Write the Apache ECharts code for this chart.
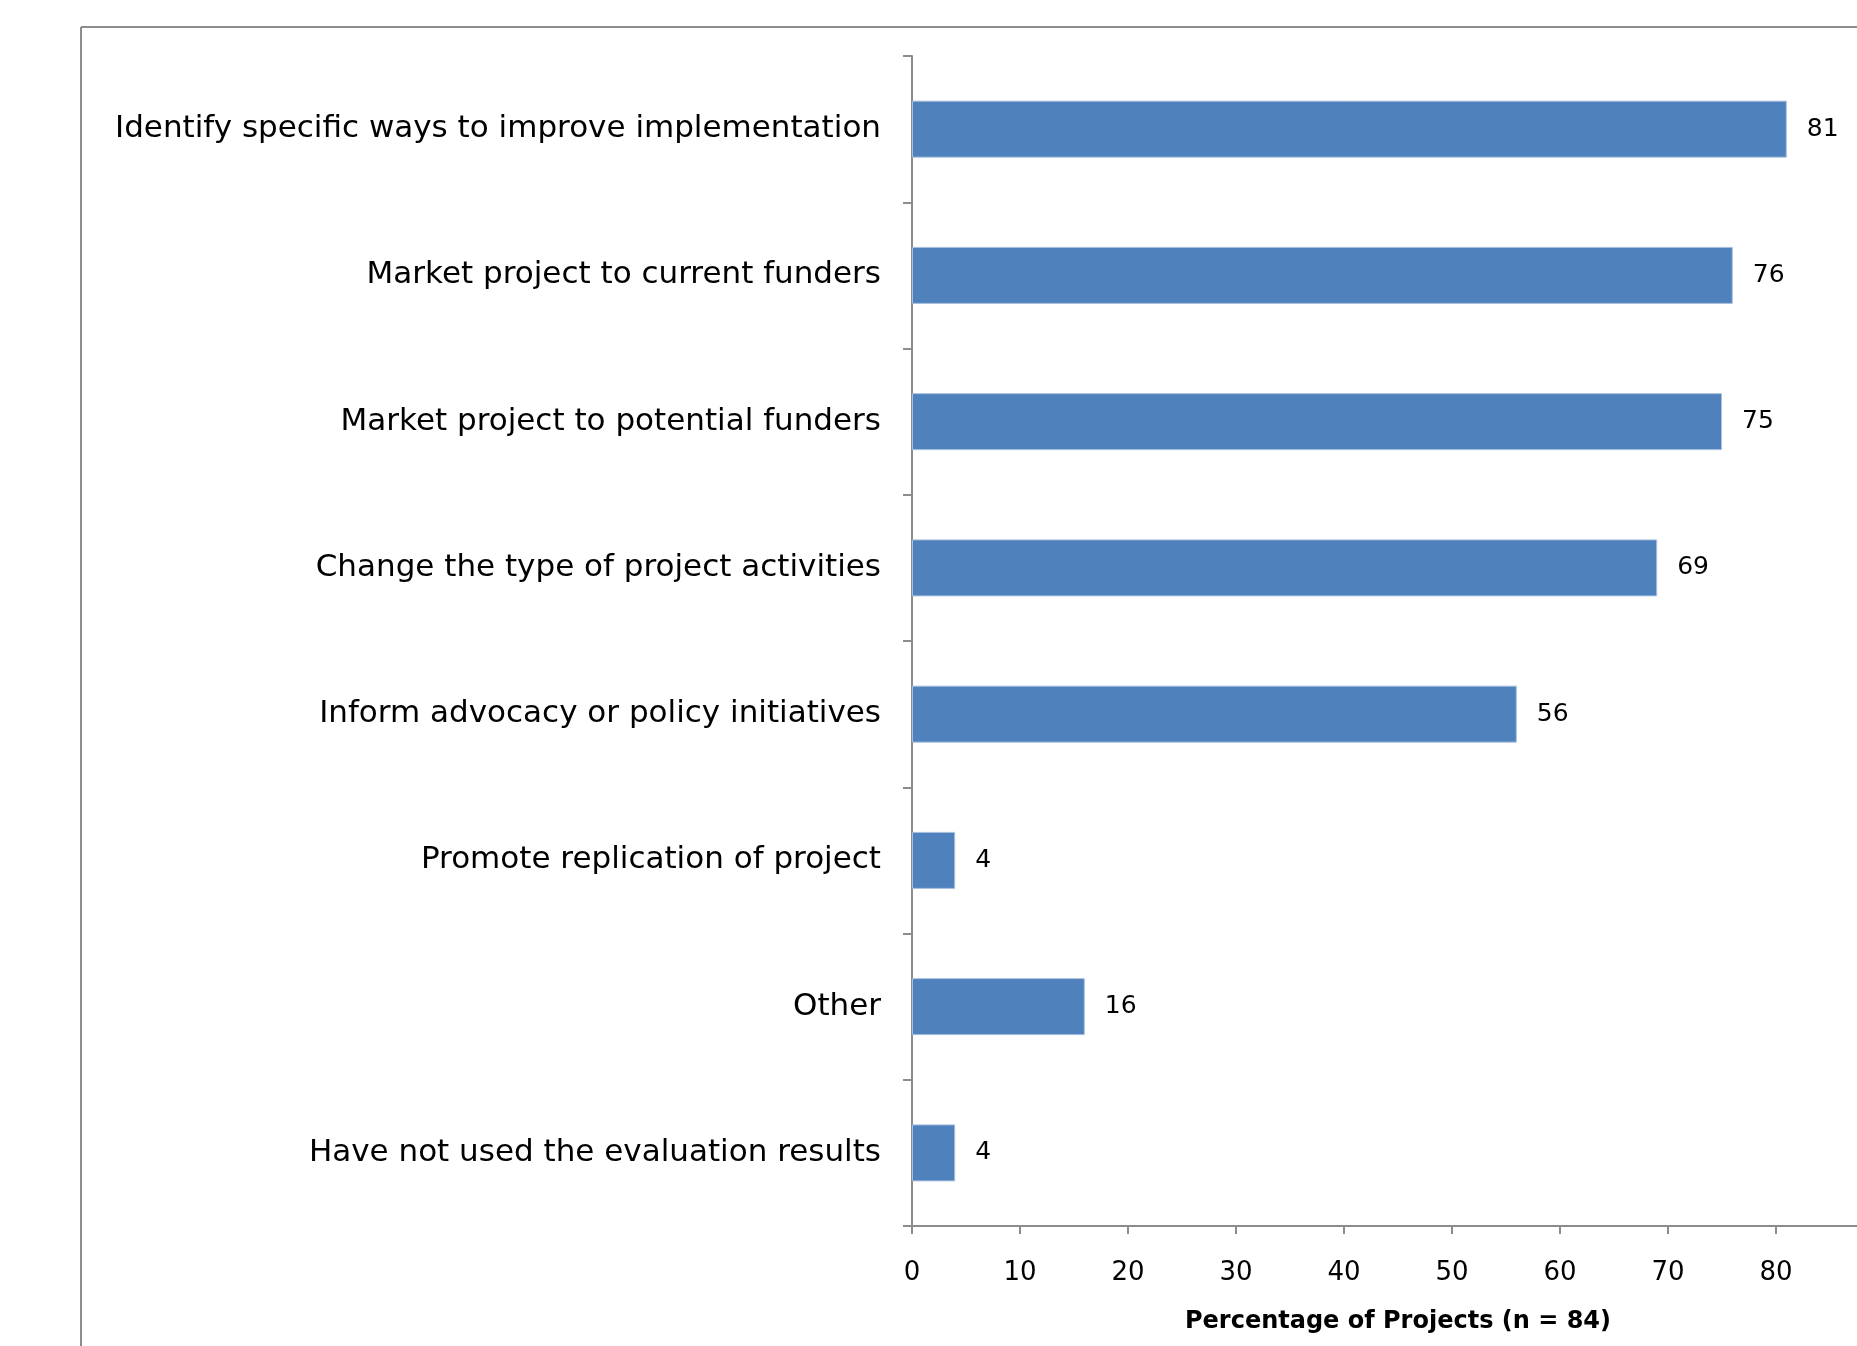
<!DOCTYPE html>
<html>
<head>
<meta charset="utf-8">
<script src="https://cdn.jsdelivr.net/npm/echarts@6/dist/echarts.min.js"></script>
<style>
html,body{margin:0;padding:0;background:#fff;}
#chart{width:1857px;height:1346px;}
</style>
</head>
<body>
<div id="chart"></div>
<script>
const categories = [
  "Identify specific ways to improve implementation",
  "Market project to current funders",
  "Market project to potential funders",
  "Change the type of project activities",
  "Inform advocacy or policy initiatives",
  "Promote replication of project",
  "Other",
  "Have not used the evaluation results"
];
const values = [81, 76, 75, 69, 56, 4, 16, 4];
const xTicks = [0, 10, 20, 30, 40, 50, 60, 70, 80, 90];
const axisName = "Percentage of Projects (n = 84)";

const chart = echarts.init(document.getElementById('chart'), null, {renderer: 'canvas'});
const font = "'DejaVu Sans', Verdana, sans-serif";
chart.setOption({
  animation: false,
  backgroundColor: '#ffffff',
  graphic: [
    {type: 'line', shape: {x1: 81, y1: 27, x2: 1857, y2: 27}, style: {stroke: '#8c8c8c', lineWidth: 2}},
    {type: 'line', shape: {x1: 81, y1: 27, x2: 81, y2: 1346}, style: {stroke: '#8c8c8c', lineWidth: 2}}
  ],
  grid: {left: 912, top: 56, width: 972, height: 1170, containLabel: false, outerBoundsMode: 'none'},
  xAxis: {
    type: 'value',
    min: xTicks[0],
    max: xTicks[xTicks.length - 1],
    interval: 10,
    name: axisName,
    nameLocation: 'middle',
    nameGap: 84,
    nameTextStyle: {fontFamily: font, fontSize: 24, fontWeight: 'bold', color: '#000'},
    axisLine: {show: true, lineStyle: {color: '#8c8c8c', width: 2}},
    axisTick: {show: true, length: 8, lineStyle: {color: '#8c8c8c', width: 2}},
    axisLabel: {fontFamily: font, fontSize: 26, color: '#000', margin: 34},
    splitLine: {show: false}
  },
  yAxis: {
    type: 'category',
    data: categories,
    inverse: true,
    axisLine: {show: true, lineStyle: {color: '#8c8c8c', width: 2}},
    axisTick: {show: true, length: 9, lineStyle: {color: '#8c8c8c', width: 2}},
    axisLabel: {fontFamily: font, fontSize: 31, color: '#000', margin: 31}
  },
  series: [{
    type: 'bar',
    data: values,
    barWidth: 57,
    itemStyle: {color: '#4f81bd', borderColor: '#a9c0dd', borderWidth: 1},
    label: {show: true, position: 'right', distance: 20, fontFamily: font, fontSize: 25, color: '#000'}
  }]
});
</script>
</body>
</html>
